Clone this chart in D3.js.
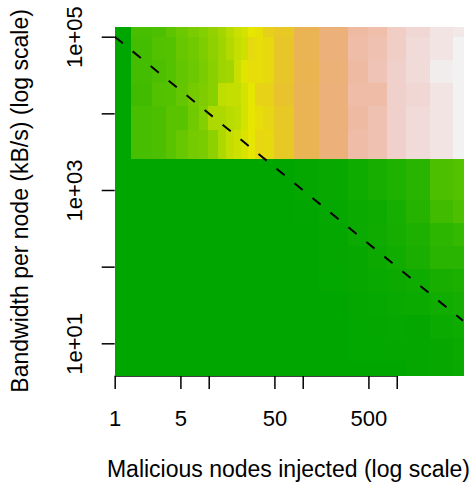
<!DOCTYPE html>
<html>
<head>
<meta charset="utf-8">
<script src="https://cdn.jsdelivr.net/npm/d3@7"></script>
<style>
  body { margin: 0; background: #fff; }
  text { font-family: "Liberation Sans", Arial, Helvetica, sans-serif; fill: #000; }
</style>
</head>
<body>
<svg id="mainsvg" width="472" height="484"></svg>
<script>
// column edges (malicious nodes) and row edges (kB/s), top row first
const nodeBreaks = [1, 1.5, 2.5, 3.5, 4.5, 6, 7.9, 9.8, 12.6, 15.3, 18.6, 22, 26, 31, 38, 49.5, 81, 149, 303, 495, 790, 1256, 2260, 3970, 5070]
const bwBreaks = [135000, 98304, 49152, 24576, 12288, 6144, 2560, 740, 370, 185, 94, 47, 23.4, 11.7, 5.8, 3.86]

// cell level 0..1 (terrain colours), one array per row, top to bottom
const row0 = [0, .19, .20, .24, .27, .30, .32, .35, .38, .42, .45, .47, .50, .51, .56, .58, .68, .76, .84, .86, .91, .94, .97, .98]
const row1 = [0, .18, .21, .22, .26, .28, .31, .34, .37, .41, .44, .46, .53, .52, .53, .59, .68, .76, .85, .87, .91, .95, .97, 1.0]
const row2 = [0, .18, .20, .22, .25, .27, .30, .33, .37, .38, .45, .49, .52, .52, .53, .59, .67, .75, .84, .88, .92, .95, .99, 1.0]
const row3 = [0, .17, .21, .22, .25, .29, .31, .33, .43, .44, .44, .47, .50, .55, .55, .60, .68, .76, .85, .85, .92, .94, .97, 1.0]
const row4 = [0, .19, .20, .23, .23, .28, .32, .40, .40, .42, .43, .47, .50, .52, .54, .58, .68, .76, .84, .87, .92, .95, .97, 1.0]
const row5 = [0, .19, .20, .23, .26, .29, .30, .34, .40, .44, .46, .48, .50, .54, .53, .58, .68, .76, .85, .87, .92, .95, .97, 1.0]
const row6 = [0, 0, 0, 0, 0, 0, 0, 0, 0, 0, 0, 0, 0, 0, 0, 0, .008, .02, .042, .065, .085, .11, .20, .22]
const row7 = [0, 0, 0, 0, 0, 0, 0, 0, 0, 0, 0, 0, 0, 0, 0, 0, .005, .015, .033, .039, .063, .105, .17, .20]
const row8 = [0, 0, 0, 0, 0, 0, 0, 0, 0, 0, 0, 0, 0, 0, 0, 0, 0, .012, .03, .045, .06, .084, .125, .145]
const row9 = [0, 0, 0, 0, 0, 0, 0, 0, 0, 0, 0, 0, 0, 0, 0, 0, 0, .01, .018, .036, .05, .075, .11, .11]
const row10 = [0, 0, 0, 0, 0, 0, 0, 0, 0, 0, 0, 0, 0, 0, 0, 0, 0, .006, .018, .024, .036, .042, .066, .078]
const row11 = [0, 0, 0, 0, 0, 0, 0, 0, 0, 0, 0, 0, 0, 0, 0, 0, 0, 0, .009, .015, .024, .03, .048, .06]
const row12 = [0, 0, 0, 0, 0, 0, 0, 0, 0, 0, 0, 0, 0, 0, 0, 0, 0, 0, .006, .009, .015, .012, .03, .042]
const row13 = [0, 0, 0, 0, 0, 0, 0, 0, 0, 0, 0, 0, 0, 0, 0, 0, 0, 0, .006, .006, .009, .012, .018, .03]
const row14 = [0, 0, 0, 0, 0, 0, 0, 0, 0, 0, 0, 0, 0, 0, 0, 0, 0, 0, 0, 0, 0, .009, .018, .024]
const levels = [row0, row1, row2, row3, row4, row5, row6, row7, row8, row9, row10, row11, row12, row13, row14]

// dashed reference line end points
const refLine = [{nodes: 1, bw: 100000}, {nodes: 5070, bw: 19.7}]

const xTicks = [1, 5, 10, 50, 100, 500, 1000]
const xLabels = [1, 5, 50, 500]
const yTicks = [10, 100, 1000, 10000, 100000]
const yLabels = {10: "1e+01", 1000: "1e+03", 100000: "1e+05"}

const fs = 22
const titleFs = 23

const x = d3.scaleLog().domain([1, 5070]).range([114.7, 463])
const y = d3.scaleLog().domain([3.86, 135000]).range([375, 26.7])

// R terrain.colors, continuous
function terrain(t) {
    let h, s, v
    if (t <= 0.5) {
        let u = t / 0.5
        h = 120 - 60 * u; s = 1; v = 0.65 + 0.25 * u
    } else {
        let u = (t - 0.5) / 0.5
        h = 60 - 60 * u; s = 1 - u; v = 0.9 + 0.05 * u
    }
    let c = v * s
    let hp = h / 60
    let xx = c * (1 - Math.abs(hp % 2 - 1))
    let r, g, b
    if (hp < 1) { r = c; g = xx; b = 0 }
    else { r = xx; g = c; b = 0 }
    let m = v - c
    return d3.rgb((r + m) * 255, (g + m) * 255, (b + m) * 255).formatHex()
}

const svg = d3.select('#mainsvg')

// axes first, the image covers the left axis line like in R
const xAxis = svg.append('g')
    .attr('transform', `translate(0,376)`)
    .call(d3.axisBottom(x).tickValues(xTicks).tickSize(13).tickSizeOuter(0).tickPadding(21)
        .tickFormat(d => xLabels.includes(d) ? d : ''))
xAxis.select('.domain').remove()
xAxis.append('line')
    .attr('x1', x(xTicks[0])).attr('x2', x(xTicks[xTicks.length - 1]))
    .attr('stroke', '#000').attr('stroke-width', 1.5)
xAxis.selectAll('.tick line').attr('stroke', '#000').attr('stroke-width', 1.5)
xAxis.selectAll('.tick text')
    .attr('font-size', fs).attr('font-family', '"Liberation Sans", Arial, sans-serif').attr('fill', '#000')

const yAxis = svg.append('g')
    .attr('transform', `translate(${x(1)},0)`)
    .call(d3.axisLeft(y).tickValues(yTicks).tickSize(13).tickSizeOuter(0)
        .tickFormat(d => yLabels[d] || ''))
yAxis.select('.domain').remove()
yAxis.selectAll('.tick line').attr('stroke', '#000').attr('stroke-width', 1.5)
yAxis.selectAll('.tick text')
    .attr('transform', 'rotate(-90)')
    .attr('x', 0).attr('y', -33).attr('dy', 0)
    .attr('text-anchor', 'middle')
    .attr('font-size', fs).attr('font-family', '"Liberation Sans", Arial, sans-serif').attr('fill', '#000')

// image cells
const cells = []
levels.forEach((row, i) => {
    row.forEach((v, j) => {
        cells.push({i: i, j: j, v: v})
    })
})
svg.append('g')
    .attr('shape-rendering', 'crispEdges')
    .selectAll('rect')
    .data(cells)
    .join('rect')
    .attr('x', d => x(nodeBreaks[d.j]))
    .attr('y', d => y(bwBreaks[d.i]))
    .attr('width', d => x(nodeBreaks[d.j + 1]) - x(nodeBreaks[d.j]) + 0.5)
    .attr('height', d => y(bwBreaks[d.i + 1]) - y(bwBreaks[d.i]) + 0.5)
    .attr('fill', d => terrain(d.v))

// dashed line
svg.append('path')
    .datum(refLine)
    .attr('d', d3.line().x(d => x(d.nodes)).y(d => y(d.bw)))
    .attr('fill', 'none')
    .attr('stroke', '#000')
    .attr('stroke-width', 2)
    .attr('stroke-dasharray', '10.5,12.7')

// axis titles
svg.append('text')
    .attr('x', 288.5).attr('y', 476.5)
    .attr('text-anchor', 'middle')
    .attr('font-size', titleFs)
    .text('Malicious nodes injected (log scale)')

svg.append('text')
    .attr('transform', 'translate(28,200.9) rotate(-90)')
    .attr('text-anchor', 'middle')
    .attr('font-size', titleFs)
    .text('Bandwidth per node (kB/s) (log scale)')
</script>
</body>
</html>
